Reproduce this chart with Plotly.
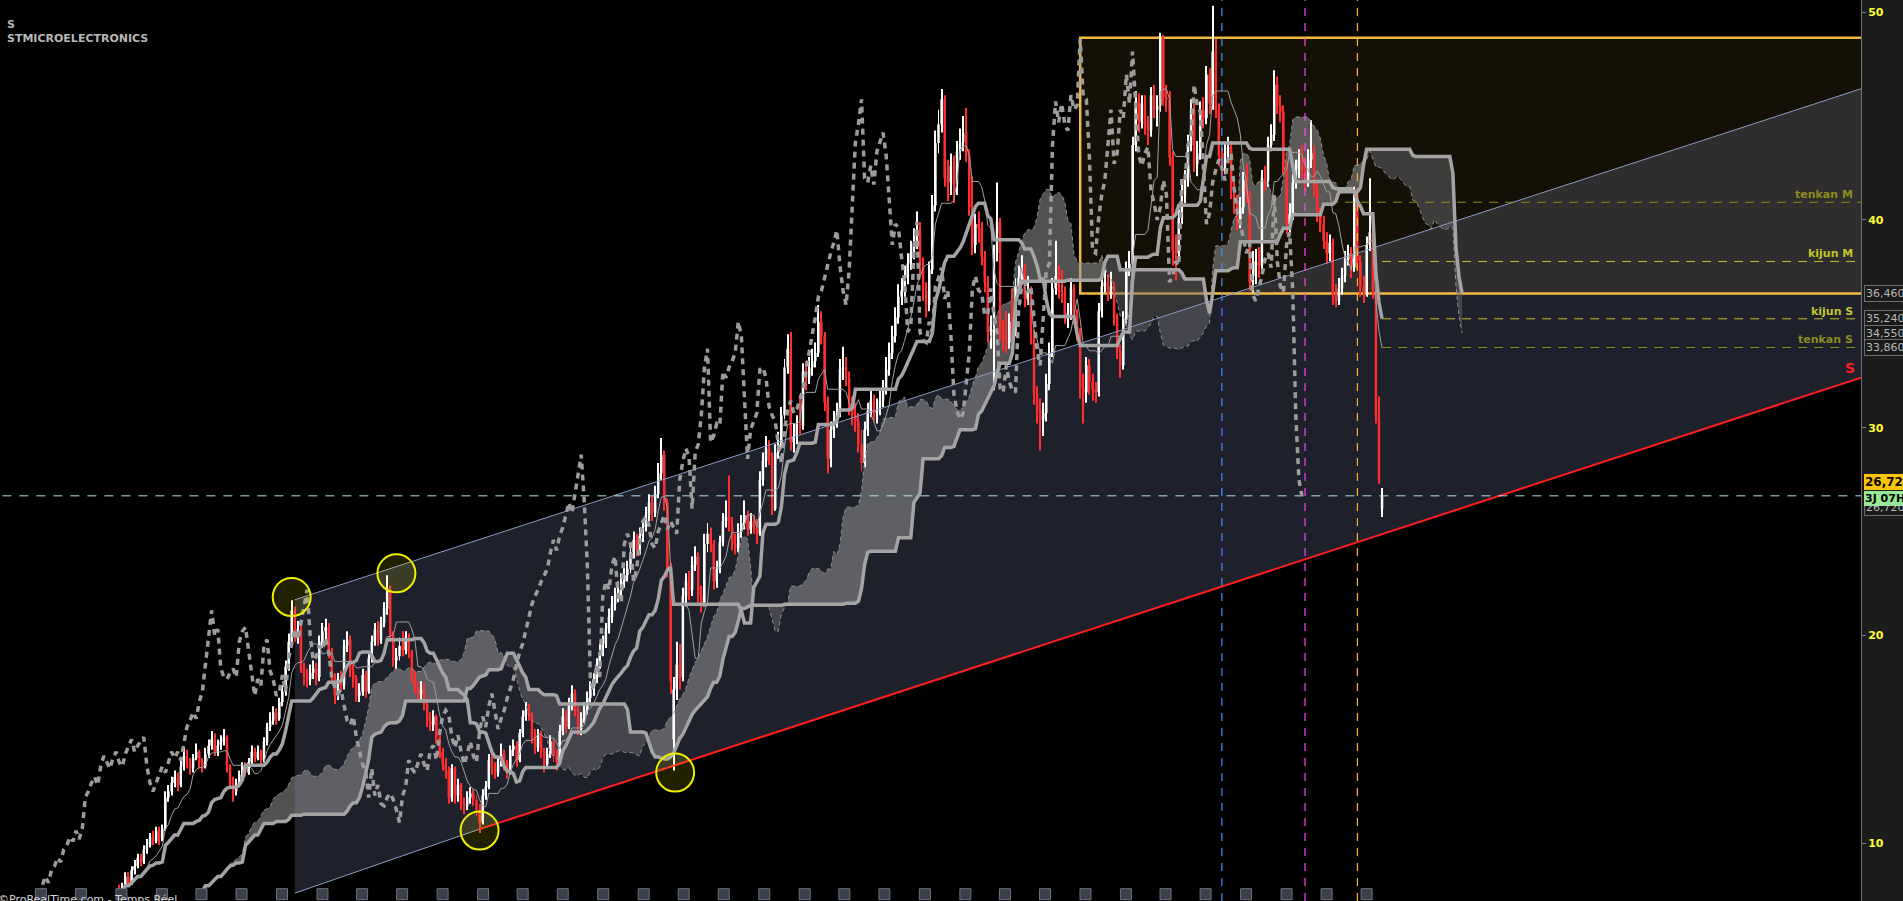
import numpy as np
import pandas as pd
import plotly.graph_objects as go

# weekly candles, STMicroelectronics
last_week = "2024-08-05"
first_open = 7.8
open_gaps = {180: 15.0, 410: 26.1}

closes = [
    7.5, 7.9, 8.4, 8.1, 8.7, 8.9, 9.3, 9.1, 9.7, 9.9,
    10.3, 10.1, 10.6, 10.2, 10.7, 12.2, 12.5, 12.9, 13.2, 12.8,
    13.7, 14.2, 13.9, 13.6, 14.1, 14.4, 13.9, 13.7, 14.3, 14.7,
    15.0, 14.4, 14.7, 14.9, 15.1, 13.7, 12.9, 12.5, 12.9, 13.3,
    13.7, 13.4, 13.9, 14.4, 14.1, 14.4, 14.0, 14.9, 15.6, 15.9,
    16.3, 16.0, 16.8, 17.3, 18.5, 19.7, 21.2, 20.0, 20.3, 18.4,
    18.0, 17.9, 18.2, 18.4, 18.0, 19.7, 20.2, 20.4, 19.2, 18.0,
    17.1, 17.9, 17.6, 19.5, 19.8, 18.3, 17.9, 17.1, 17.3, 18.1,
    17.3, 18.9, 19.7, 20.3, 19.8, 20.6, 21.3, 22.2, 20.0, 18.8,
    19.0, 19.5, 19.3, 19.9, 19.2, 18.0, 17.5, 17.2, 17.4, 16.7,
    15.9, 15.7, 16.1, 15.1, 14.4, 13.8, 13.5, 12.2, 13.6, 12.3,
    12.8, 11.9, 11.8, 12.2, 12.4, 12.1, 11.6, 11.0, 12.3, 12.7,
    14.0, 13.6, 13.4, 13.9, 14.3, 13.8, 13.5, 14.5, 14.7, 14.0,
    15.3, 16.1, 16.4, 16.2, 15.1, 14.6, 15.2, 14.4, 13.8, 14.3,
    14.9, 14.2, 13.9, 15.4, 16.1, 15.6, 16.6, 17.2, 16.4, 15.5,
    16.0, 16.4, 17.0, 17.4, 17.9, 18.6, 19.2, 19.6, 20.3, 20.9,
    21.5, 21.9, 22.2, 22.6, 22.9, 23.2, 24.0, 24.6, 24.1, 24.8,
    25.2, 25.8, 26.4, 25.9, 26.8, 27.8, 28.7, 26.4, 23.3, 17.8,
    17.4, 18.6, 18.0, 21.9, 22.6, 22.2, 23.4, 23.8, 21.9, 21.6,
    24.4, 24.9, 24.4, 22.6, 23.2, 24.5, 25.5, 25.7, 25.3, 24.4,
    24.2, 25.0, 25.4, 25.8, 25.1, 25.5, 25.2, 24.9, 27.5, 28.4,
    29.0, 28.6, 26.1, 28.8, 29.2, 30.6, 32.9, 33.8, 29.3, 29.6,
    30.2, 30.1, 32.7, 32.4, 32.9, 33.2, 33.6, 35.1, 34.4, 31.2,
    28.5, 29.9, 30.3, 30.7, 32.8, 32.9, 32.4, 31.0, 30.6, 30.3,
    29.2, 28.3, 29.9, 30.8, 31.3, 30.7, 30.9, 31.3, 31.8, 32.8,
    33.6, 34.4, 35.3, 36.3, 36.6, 37.2, 37.9, 38.4, 38.9, 39.5,
    37.8, 36.6, 35.9, 37.6, 40.7, 43.7, 44.6, 45.8, 42.0, 41.8,
    42.6, 41.7, 43.3, 43.7, 44.2, 43.1, 40.6, 38.8, 39.8, 39.6,
    38.2, 37.0, 34.6, 34.9, 38.4, 39.9, 34.6, 34.2, 34.1, 35.1,
    34.6, 36.8, 37.2, 37.7, 36.2, 36.6, 34.5, 31.6, 30.8, 30.4,
    30.7, 32.1, 33.6, 36.7, 37.3, 36.6, 36.5, 35.4, 35.5, 36.7,
    35.4, 34.6, 31.9, 31.7, 33.0, 32.2, 31.8, 31.7, 35.6, 36.8,
    37.0, 36.5, 36.8, 35.3, 33.7, 33.0, 35.2, 37.6, 37.9, 43.6,
    45.7, 44.7, 45.6, 44.6, 44.3, 46.0, 45.3, 45.5, 48.7, 45.9,
    45.8, 43.0, 38.5, 38.4, 40.1, 41.2, 41.9, 43.6, 45.3, 42.7,
    43.2, 45.3, 44.9, 47.0, 45.6, 48.1, 45.3, 43.1, 42.6, 43.2,
    43.5, 41.4, 40.8, 40.0, 40.6, 41.9, 41.2, 37.0, 37.3, 38.0,
    37.8, 42.0, 41.9, 43.6, 44.1, 46.5, 45.5, 45.2, 42.6, 39.8,
    40.3, 41.8, 42.4, 42.9, 42.5, 41.9, 42.9, 43.2, 41.5, 40.3,
    39.8, 39.0, 38.4, 38.9, 36.4, 36.1, 36.7, 37.3, 38.1, 38.4,
    37.7, 41.2, 38.0, 36.8, 36.5, 38.8, 39.4, 36.6, 30.6, 27.5,
    26.72,
]

highs = [
    8.0, 8.1, 8.6, 8.6, 8.9, 9.2, 9.5, 9.5, 9.9, 10.2,
    10.5, 10.6, 10.8, 10.8, 10.9, 12.5, 12.8, 13.2, 13.5, 13.4,
    14.0, 14.6, 14.5, 14.1, 14.3, 14.8, 14.5, 14.1, 14.6, 15.0,
    15.4, 15.3, 15.0, 15.2, 15.5, 15.2, 13.8, 13.2, 13.1, 13.5,
    13.9, 13.9, 14.1, 14.7, 14.6, 14.7, 14.5, 15.1, 15.8, 16.3,
    16.6, 16.5, 17.0, 17.6, 18.8, 20.1, 21.7, 21.4, 20.7, 20.5,
    18.7, 18.4, 18.6, 18.8, 18.7, 20.0, 20.6, 20.8, 20.6, 19.4,
    18.2, 18.2, 18.3, 19.8, 20.2, 20.0, 18.6, 18.1, 17.7, 18.4,
    18.3, 19.2, 20.0, 20.6, 20.7, 20.9, 21.6, 22.9, 22.4, 20.2,
    19.4, 19.9, 20.2, 20.2, 20.1, 19.3, 18.3, 17.8, 17.8, 17.7,
    16.9, 16.3, 16.4, 16.2, 15.4, 14.6, 14.1, 13.7, 13.8, 13.7,
    13.1, 12.9, 12.2, 12.5, 12.7, 12.6, 12.3, 11.9, 12.6, 13.0,
    14.3, 14.3, 13.9, 14.1, 14.8, 14.5, 14.0, 14.7, 15.0, 14.9,
    15.5, 16.4, 16.8, 16.7, 16.3, 15.5, 15.5, 15.4, 14.6, 14.6,
    15.2, 15.0, 14.5, 15.7, 16.5, 16.4, 17.0, 17.6, 17.4, 16.6,
    16.3, 16.8, 17.3, 17.8, 18.2, 18.9, 19.6, 20.0, 20.6, 21.3,
    21.9, 22.3, 22.6, 23.0, 23.3, 23.6, 24.4, 25.0, 24.9, 25.2,
    25.6, 26.2, 26.8, 26.7, 27.2, 28.3, 29.5, 28.9, 26.6, 23.5,
    18.0, 19.7, 19.6, 22.3, 23.0, 23.1, 23.8, 24.3, 24.0, 22.4,
    24.9, 25.4, 25.2, 24.6, 23.6, 24.8, 25.9, 26.5, 27.7, 25.7,
    24.9, 25.4, 25.8, 26.5, 26.0, 25.9, 25.8, 25.6, 27.9, 28.8,
    29.6, 29.4, 28.8, 29.2, 29.8, 31.0, 33.3, 34.5, 34.6, 30.2,
    30.6, 31.6, 33.1, 33.2, 33.4, 33.8, 34.1, 35.9, 35.6, 34.6,
    31.5, 30.3, 30.8, 31.2, 33.3, 33.9, 33.4, 32.7, 31.5, 31.2,
    30.7, 29.9, 30.3, 31.2, 31.8, 31.6, 31.4, 31.8, 32.3, 33.4,
    34.1, 34.9, 35.8, 36.9, 37.2, 37.8, 38.4, 39.0, 39.6, 40.4,
    39.9, 38.2, 37.0, 38.0, 41.2, 44.3, 45.3, 46.3, 46.0, 42.9,
    43.2, 43.1, 43.8, 44.4, 45.0, 45.4, 43.4, 42.1, 40.3, 40.4,
    39.9, 38.5, 37.3, 35.4, 38.8, 41.8, 40.1, 35.2, 35.6, 35.5,
    36.7, 37.2, 37.8, 38.3, 37.9, 37.3, 36.8, 34.7, 32.0, 31.4,
    31.2, 32.6, 34.1, 37.2, 39.0, 37.8, 37.6, 36.8, 36.0, 37.2,
    36.9, 35.7, 34.8, 32.6, 33.4, 33.3, 32.6, 32.2, 36.0, 37.3,
    37.6, 37.4, 37.5, 37.0, 35.5, 34.0, 35.6, 38.0, 38.5, 44.0,
    46.2, 46.1, 46.0, 46.0, 45.0, 46.4, 46.5, 46.0, 49.0, 48.9,
    46.5, 46.2, 43.3, 39.3, 40.5, 41.7, 42.4, 44.1, 45.8, 45.6,
    43.8, 45.7, 45.9, 47.4, 47.3, 50.3, 48.7, 45.6, 43.5, 43.7,
    44.0, 43.8, 41.9, 41.2, 41.1, 42.3, 42.7, 41.4, 38.5, 38.6,
    38.7, 42.4, 42.6, 44.0, 44.6, 47.2, 46.9, 46.0, 45.5, 42.8,
    40.8, 42.2, 42.9, 43.4, 43.6, 43.0, 43.4, 44.8, 43.6, 41.9,
    40.6, 40.2, 39.4, 39.3, 39.1, 36.9, 37.2, 37.7, 38.5, 38.8,
    38.7, 41.6, 41.5, 38.3, 37.3, 39.2, 42.0, 39.8, 36.8, 31.5,
    27.1,
]

lows = [
    7.3, 7.4, 7.8, 7.9, 8.0, 8.5, 8.8, 8.9, 9.0, 9.5,
    9.8, 9.9, 10.0, 9.9, 10.1, 10.6, 12.0, 12.3, 12.7, 12.5,
    12.7, 13.5, 13.6, 13.3, 13.4, 14.0, 13.6, 13.4, 13.6, 14.1,
    14.5, 14.2, 14.2, 14.5, 14.7, 13.4, 12.6, 12.0, 12.3, 12.7,
    13.1, 13.2, 13.3, 13.8, 13.9, 14.0, 13.8, 13.9, 14.7, 15.4,
    15.7, 15.7, 15.9, 16.6, 17.1, 18.3, 19.5, 19.7, 19.6, 18.2,
    17.6, 17.5, 17.6, 17.9, 17.6, 17.8, 19.4, 19.8, 18.9, 17.7,
    16.7, 16.9, 17.3, 17.4, 19.2, 18.0, 17.5, 16.8, 16.8, 17.1,
    17.0, 17.2, 18.7, 19.5, 19.5, 19.6, 20.4, 21.0, 19.7, 18.5,
    18.4, 18.8, 19.0, 19.1, 18.9, 17.7, 17.2, 16.8, 16.9, 16.4,
    15.6, 15.4, 15.4, 14.8, 14.1, 13.5, 13.1, 11.9, 12.0, 11.9,
    12.0, 11.6, 11.4, 11.6, 11.9, 11.8, 11.3, 10.5, 10.9, 12.1,
    12.6, 13.3, 13.1, 13.2, 13.7, 13.5, 13.1, 13.3, 14.2, 13.7,
    13.9, 15.1, 15.9, 15.9, 14.8, 14.3, 14.4, 14.1, 13.4, 13.6,
    14.1, 13.9, 13.5, 13.8, 15.2, 15.3, 15.5, 16.4, 16.1, 15.2,
    15.2, 15.8, 16.2, 16.8, 17.1, 17.7, 18.4, 19.0, 19.4, 20.1,
    20.6, 21.2, 21.6, 21.9, 22.3, 22.6, 23.0, 23.7, 23.8, 23.9,
    24.5, 25.0, 25.5, 25.5, 25.7, 26.6, 27.5, 26.0, 22.8, 17.2,
    13.5, 16.9, 17.4, 17.8, 21.4, 21.7, 21.9, 23.1, 21.5, 21.1,
    21.4, 24.0, 24.0, 22.2, 22.3, 23.0, 24.3, 25.2, 25.0, 24.1,
    23.9, 24.0, 24.7, 25.1, 24.8, 24.9, 24.9, 24.4, 24.8, 27.2,
    28.1, 28.2, 25.8, 26.0, 28.5, 29.0, 30.4, 32.6, 28.9, 28.8,
    29.2, 29.7, 29.9, 31.8, 32.1, 32.5, 32.9, 33.4, 34.0, 30.8,
    27.8, 28.1, 29.5, 30.0, 30.5, 32.3, 32.0, 30.6, 30.1, 29.8,
    28.8, 27.9, 28.1, 29.6, 30.5, 30.3, 30.2, 30.6, 31.0, 31.6,
    32.5, 33.3, 34.1, 35.0, 35.9, 36.3, 36.9, 37.6, 38.1, 38.6,
    37.4, 36.1, 35.3, 35.6, 37.4, 40.4, 43.2, 44.2, 41.6, 40.9,
    41.2, 40.8, 41.2, 42.9, 43.3, 42.8, 40.2, 38.3, 38.4, 38.9,
    37.8, 36.5, 34.1, 33.8, 31.8, 38.0, 34.2, 33.7, 33.6, 33.8,
    34.2, 34.4, 36.5, 36.9, 35.8, 35.9, 34.0, 31.1, 30.2, 28.9,
    29.6, 30.3, 31.8, 33.4, 36.4, 36.2, 36.0, 35.0, 34.8, 35.2,
    35.0, 34.2, 31.4, 30.2, 31.2, 31.6, 31.3, 31.2, 31.5, 35.3,
    36.5, 36.1, 36.2, 34.9, 33.3, 32.4, 32.8, 35.0, 37.3, 37.6,
    43.3, 44.2, 44.4, 44.1, 43.6, 44.0, 44.9, 44.5, 45.2, 45.5,
    45.2, 42.6, 37.8, 37.1, 38.1, 39.8, 40.8, 41.6, 43.3, 42.3,
    42.1, 42.9, 44.4, 44.6, 45.1, 45.3, 44.9, 42.6, 42.1, 42.2,
    42.8, 41.0, 40.3, 39.5, 39.6, 40.3, 40.8, 36.6, 36.5, 36.9,
    37.2, 37.6, 41.4, 41.6, 43.3, 43.8, 45.1, 44.7, 42.2, 39.3,
    39.4, 40.0, 41.5, 42.0, 42.0, 41.4, 41.6, 42.5, 41.1, 39.9,
    39.4, 38.6, 37.9, 38.0, 35.9, 35.8, 35.9, 36.4, 37.0, 37.8,
    37.2, 37.5, 37.6, 36.3, 36.0, 36.3, 38.5, 36.2, 30.2, 27.3,
    25.7,
]

y_ticks = [10, 20, 30, 40, 50]

# drawings on the chart (week index, price)
channel_top = [(57, 21.72), (565.5, 46.31)]
channel_bottom = [(57, 7.6), (117, 10.68), (565.5, 32.41)]
touch_idx = [56, 90, 117, 180.5]
touch_price = [21.85, 22.99, 10.61, 13.40]
box_idx = 312
box_top, box_bottom = 48.77, 36.46
vline_idx = [358, 385, 402]
vline_colors = ["#4a8cff", "#ff44ff", "#ffb030"]
levels = [("tenkan M", 40.85, 398, "#8c8c1e"),
          ("kijun M", 38.0, 410, "#c4c42a"),
          ("kijun S", 35.24, 410, "#c4c42a"),
          ("tenkan S", 33.86, 410, "#8c8c1e")]
axis_tags = [("36,460", 36.46), ("35,240", 35.24), ("34,550", 34.55), ("33,860", 33.86)]
last_price = 26.72

n = len(closes)
assert len(highs) == n and len(lows) == n

dates = pd.date_range(end=last_week, periods=n, freq="W-MON")
t0 = dates[0]
WEEK_MS = 7 * 86400000


def wk(i):
    return t0 + pd.Timedelta(weeks=float(i))


def ms(i):
    return wk(i).value // 10**6


opens = [first_open] + closes[:-1]
for k, v in open_gaps.items():
    opens[k] = v
hi = np.maximum(highs, np.maximum(opens, closes))
lo = np.minimum(lows, np.minimum(opens, closes))
o = np.array(opens)
c = np.array(closes)
up = c >= o
colors = np.where(up, "#ffffff", "#ff2e2e")

# ichimoku
h = pd.Series(hi)
l = pd.Series(lo)


def mid(p):
    return (h.rolling(p, min_periods=1).max() + l.rolling(p, min_periods=1).min()) / 2


tenkan = mid(9)
kijun = mid(26)
span_a = ((tenkan + kijun) / 2).values
span_b = mid(52).values
fut = [wk(i + 26) for i in range(n)]
past = [wk(i - 26) for i in range(n)]

x_lo, x_hi = wk(-38.7), wk(565.5)
y_lo, y_hi = 7.222, 50.582


def poly(pts):
    return "M " + " L ".join("%d,%.4f" % (x, y) for x, y in pts) + " Z"


shapes = []
# channel fill
chan = [(ms(i), p) for i, p in channel_top] + [(ms(i), p) for i, p in channel_bottom[::-1]]
shapes.append(dict(type="path", path=poly(chan), xref="x", yref="y", layer="below",
                   fillcolor="rgba(41,43,58,0.74)", line=dict(width=0)))
# box
shapes.append(dict(type="rect", x0=wk(box_idx), x1=wk(600), y0=box_bottom, y1=box_top, xref="x", yref="y",
                   layer="below", fillcolor="rgba(255,200,80,0.08)", line=dict(color="#f5b942", width=2.5)))
# cloud, two shades
bull = span_a >= span_b
start = 0
for k in range(1, n + 1):
    if k == n or bull[k] != bull[start]:
        seg = list(range(start, min(k + 1, n)))
        pts = [(ms(j + 26), span_a[j]) for j in seg] + [(ms(j + 26), span_b[j]) for j in seg[::-1]]
        col = "rgba(150,150,152,0.55)" if bull[start] else "rgba(105,105,112,0.5)"
        shapes.append(dict(type="path", path=poly(pts), xref="x", yref="y", layer="below",
                           fillcolor=col, line=dict(width=0)))
        start = k

fig = go.Figure()

# candles: wicks then bodies
fig.add_trace(go.Bar(x=dates, y=hi - lo, base=lo, width=0.32 * WEEK_MS,
                     marker=dict(color=colors, line=dict(width=0)), hoverinfo="skip"))
fig.add_trace(go.Bar(x=dates, y=np.maximum(np.abs(c - o), 0.05), base=np.minimum(o, c), width=0.8 * WEEK_MS,
                     marker=dict(color=colors, line=dict(width=0)), hoverinfo="skip"))

# channel edges
fig.add_trace(go.Scatter(x=[wk(p[0]) for p in channel_top], y=[p[1] for p in channel_top],
                         mode="lines", line=dict(color="#8c9cc4", width=1), hoverinfo="skip"))
fig.add_trace(go.Scatter(x=[wk(p[0]) for p in channel_bottom[:2]], y=[p[1] for p in channel_bottom[:2]],
                         mode="lines", line=dict(color="#8c9cc4", width=1), hoverinfo="skip"))
fig.add_trace(go.Scatter(x=[wk(p[0]) for p in channel_bottom[1:]], y=[p[1] for p in channel_bottom[1:]],
                         mode="lines", line=dict(color="#ff1e1e", width=2), hoverinfo="skip"))

# vertical markers
for vi, vc in zip(vline_idx, vline_colors):
    fig.add_trace(go.Scatter(x=[wk(vi), wk(vi)], y=[y_lo, y_hi], mode="lines",
                             line=dict(color=vc, width=1.2, dash="8px,7px"), hoverinfo="skip"))

# level lines
for name, val, si, col in levels:
    fig.add_trace(go.Scatter(x=[wk(si), wk(600)], y=[val, val], mode="lines",
                             line=dict(color=col, width=1, dash="9px,7px"), hoverinfo="skip"))
fig.add_trace(go.Scatter(x=[wk(-60), wk(600)], y=[last_price, last_price], mode="lines",
                         line=dict(color="#b4e6f0", width=1, dash="9px,8px"), hoverinfo="skip"))

# ichimoku lines
fig.add_trace(go.Scatter(x=fut, y=span_a, mode="lines", line=dict(color="#8e8e8e", width=1, dash="4px,3px"),
                         hoverinfo="skip"))
fig.add_trace(go.Scatter(x=fut, y=span_b, mode="lines", line=dict(color="#a4a4a4", width=3.5), hoverinfo="skip"))
fig.add_trace(go.Scatter(x=dates, y=kijun, mode="lines", line=dict(color="#a4a4a4", width=3.5), hoverinfo="skip"))
fig.add_trace(go.Scatter(x=dates, y=tenkan, mode="lines", line=dict(color="#a0a0a0", width=1), hoverinfo="skip"))
fig.add_trace(go.Scatter(x=past, y=closes, mode="lines", line=dict(color="#9c9c9c", width=3.5, dash="6px,5px"),
                         hoverinfo="skip"))

# touch points
fig.add_trace(go.Scatter(x=[wk(i) for i in touch_idx], y=touch_price, mode="markers",
                         marker=dict(size=38, color="rgba(255,255,0,0.13)",
                                     line=dict(color="#f0f000", width=2)), hoverinfo="skip"))

# calendar icons along the time axis
qs = pd.date_range("2016-04-01", "2024-07-01", freq="QS")
fig.add_trace(go.Scatter(x=qs, y=[7.55] * len(qs), mode="markers", cliponaxis=False,
                         marker=dict(symbol="square", size=11, color="#3a3f4a",
                                     line=dict(color="#6c727e", width=1)), hoverinfo="skip"))

ann = []
ann.append(dict(x=0, y=1, xref="paper", yref="paper", xanchor="left", yanchor="top", xshift=5, yshift=-16,
                text="<b>S</b><br><b>STMICROELECTRONICS</b>", showarrow=False, align="left",
                font=dict(family="DejaVu Sans", size=11, color="#b8b8b8")))
ann.append(dict(x=0, y=0, xref="paper", yref="paper", xanchor="left", yanchor="bottom", xshift=-4, yshift=-7,
                text="©ProRealTime.com - Temps Réel", showarrow=False,
                font=dict(family="DejaVu Sans", size=11, color="#d8d8d8")))
for name, val, si, col in levels:
    ann.append(dict(x=1, y=val, xref="paper", yref="y", xanchor="right", yanchor="bottom", xshift=-6, yshift=-1,
                    text="<b>" + name + "</b>", showarrow=False,
                    font=dict(family="DejaVu Sans", size=11, color=col)))
ann.append(dict(x=1, y=channel_bottom[-1][1], xref="paper", yref="y", xanchor="right", yanchor="bottom",
                xshift=-4, yshift=0, text="<b>S</b>", showarrow=False,
                font=dict(family="DejaVu Sans", size=14, color="#ff2020")))
for txt, val in axis_tags:
    ann.append(dict(x=1, y=val, xref="paper", yref="y", xanchor="left", yanchor="middle", xshift=3,
                    text=txt, showarrow=False, bgcolor="#1a1a1a", bordercolor="#6e6e6e", borderwidth=1,
                    borderpad=1, font=dict(family="DejaVu Sans", size=11, color="#b8b8b8")))
ann.append(dict(x=1, y=26.15, xref="paper", yref="y", xanchor="left", yanchor="middle", xshift=3,
                text="26,720", showarrow=False, bgcolor="#1a1a1a", bordercolor="#6e6e6e", borderwidth=1,
                borderpad=1, font=dict(family="DejaVu Sans", size=11, color="#b8b8b8")))
ann.append(dict(x=1, y=26.6, xref="paper", yref="y", xanchor="left", yanchor="middle", xshift=3,
                text="<b>3J 07H</b>", showarrow=False, bgcolor="#98e898", borderwidth=0,
                borderpad=1, font=dict(family="DejaVu Sans", size=11, color="#000000")))
ann.append(dict(x=1, y=27.4, xref="paper", yref="y", xanchor="left", yanchor="middle", xshift=3,
                text="<b>" + f"{last_price:.2f}".replace(".", ",") + "</b>", showarrow=False,
                bgcolor="#ffc400", borderwidth=0, borderpad=1,
                font=dict(family="DejaVu Sans", size=12, color="#000000")))

fig.update_layout(
    width=1903, height=901,
    margin=dict(l=0, r=42, t=0, b=0, pad=0),
    paper_bgcolor="#1c1c1c", plot_bgcolor="#000000",
    showlegend=False, barmode="overlay",
    annotations=ann, shapes=shapes,
    xaxis=dict(range=[x_lo, x_hi], showticklabels=False, showgrid=False, zeroline=False,
               showline=False, ticks=""),
    yaxis=dict(range=[y_lo, y_hi], side="right", tickvals=y_ticks,
               ticktext=["<b>%d</b>" % v for v in y_ticks],
               tickfont=dict(family="DejaVu Sans", size=11, color="#ffff30"),
               ticks="outside", ticklen=4, tickcolor="#808080",
               showline=True, linecolor="#707070", linewidth=1, showgrid=False, zeroline=False),
)

fig.write_html("out.html", config={"displayModeBar": False},
               post_script="document.body.style.margin='0';document.body.style.overflow='hidden';")
